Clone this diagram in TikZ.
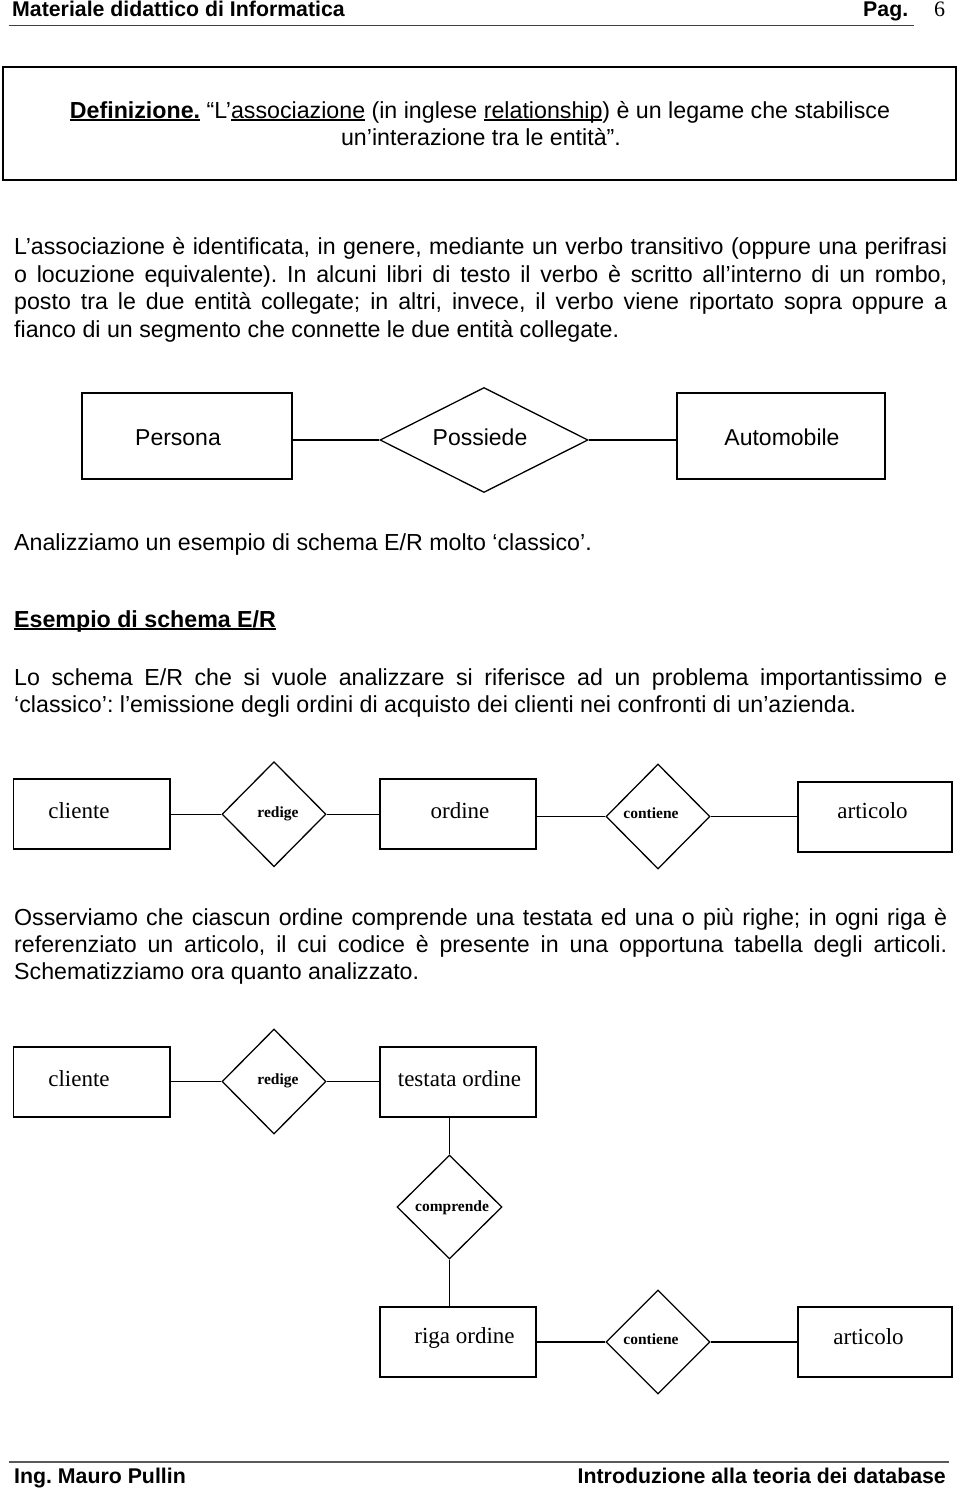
\documentclass[tikz,border=0pt]{standalone}
\usepackage{fontspec}
\setmainfont{Liberation Serif}
\newfontfamily\arialf{Liberation Sans}
\usetikzlibrary{shapes.geometric}
\frenchspacing
\newcommand\jline[1]{\makebox[933pt][s]{#1}}
\newcommand\myul[1]{\setbox0\hbox{#1}\rlap{\rule[-2.8pt]{\wd0}{1.5pt}}\box0\relax}
\tikzset{
  bodytext/.style={anchor=base west, inner sep=0pt, font=\arialf\fontsize{23.2}{27.5}\selectfont},
  centertext/.style={anchor=base, inner sep=0pt, font=\arialf\fontsize{23.2}{27.5}\selectfont},
  hdrtext/.style={inner sep=0pt, font=\arialf\bfseries\fontsize{21.3}{25}\selectfont},
  entA/.style={draw, line width=1.3pt, rectangle, inner sep=0pt},
  relA/.style={draw, line width=1.3pt, diamond, inner sep=0pt},
  entB/.style={draw, line width=1.6pt, rectangle, inner sep=0pt},
  relB/.style={draw, line width=1.3pt, diamond, inner sep=0pt},
  lblA/.style={anchor=base, inner sep=0pt, font=\arialf\fontsize{23}{27}\selectfont},
  lblE/.style={anchor=base, inner sep=0pt, font=\fontsize{23}{27}\selectfont},
  lblR/.style={anchor=base, inner sep=0pt, font=\bfseries\fontsize{15.5}{18}\selectfont},
  link/.style={line width=1.4pt},
  rulehdr/.style={line width=1.5pt, black!75}
}
\begin{document}
\begin{tikzpicture}[x=1pt,y=-1pt]
\useasboundingbox[fill=white] (0,0) rectangle (960,1488);

% header
\node[hdrtext, anchor=base west] (hdr) at (12,17) {Materiale didattico di Informatica};
\node[hdrtext, anchor=base west] (pag) at (863,17) {Pag.};
\node[anchor=base west, inner sep=0pt, font=\fontsize{22}{26}\selectfont] (pnum) at (934,17) {6};
\draw[rulehdr] (8.6,25.5) -- (914,25.5);

% definition box
\draw[line width=2pt] (3,67) rectangle (956,179.5);
\node[centertext] (def1) at (480,118) {\textbf{\myul{Definizione.}} “L’\myul{associazione} (in inglese \myul{relationship}) è un legame che stabilisce};
\node[centertext] (def2) at (481,145) {un’interazione tra le entità”.};

% paragraph 1
\node[bodytext] (p1a) at (14,254.5) {\jline{L’associazione è identificata, in genere, mediante un verbo transitivo (oppure una perifrasi}};
\node[bodytext] (p1b) at (14,282) {\jline{o locuzione equivalente). In alcuni libri di testo il verbo è scritto all’interno di un rombo,}};
\node[bodytext] (p1c) at (14,309.5) {\jline{posto tra le due entità collegate; in altri, invece, il verbo viene riportato sopra oppure a}};
\node[bodytext] (p1d) at (14,337) {fianco di un segmento che connette le due entità collegate.};

% diagram 1
\node[entA, minimum width=210pt, minimum height=86pt] (persona) at (187,436) {};
\node[relA, minimum width=208pt, minimum height=105pt] (possiede) at (484,440) {};
\node[entA, minimum width=208pt, minimum height=86pt] (auto) at (781,436) {};
\node[lblA] (tpersona) at (178,445) {Persona};
\node[lblA] (tpossiede) at (480,445) {Possiede};
\node[lblA] (tauto) at (782,445) {Automobile};
\draw[link] (possiede.west) -- (possiede.west -| persona.east);
\draw[link] (possiede.east) -- (possiede.east -| auto.west);

\node[bodytext] (p2) at (14,550) {Analizziamo un esempio di schema E/R molto ‘classico’.};
\node[bodytext] (p3) at (14,627) {\textbf{\myul{Esempio di schema E/R}}};
\node[bodytext] (p4a) at (14,685) {\jline{Lo schema E/R che si vuole analizzare si riferisce ad un problema importantissimo e}};
\node[bodytext] (p4b) at (14,712) {‘classico’: l’emissione degli ordini di acquisto dei clienti nei confronti di un’azienda.};

% diagram 2
\node[entB, minimum width=156.5pt, minimum height=70pt] (cl1) at (91.75,814) {};
\node[relB, minimum width=104pt, minimum height=105pt] (red1) at (274,814.2) {};
\node[entB, minimum width=156pt, minimum height=70pt] (ord1) at (458,814) {};
\node[relB, minimum width=104pt, minimum height=105pt] (con1) at (658,816.5) {};
\node[entB, minimum width=154pt, minimum height=70pt] (art1) at (875,817) {};
\node[lblE] (tcl1) at (79,818) {cliente};
\node[lblR] (tred1) at (278,817.5) {redige};
\node[lblE] (tord1) at (460,818) {ordine};
\node[lblR] (tcon1) at (651,818) {contiene};
\node[lblE] (tart1) at (872.5,818) {articolo};
\draw[link] (red1.west) -- (red1.west -| cl1.east);
\draw[link] (red1.east) -- (red1.east -| ord1.west);
\draw[link] (con1.west) -- (con1.west -| ord1.east);
\draw[link] (con1.east) -- (con1.east -| art1.west);

\node[bodytext] (p5a) at (14,925) {\jline{Osserviamo che ciascun ordine comprende una testata ed una o più righe; in ogni riga è}};
\node[bodytext] (p5b) at (14,952) {\jline{referenziato un articolo, il cui codice è presente in una opportuna tabella degli articoli.}};
\node[bodytext] (p5c) at (14,979) {Schematizziamo ora quanto analizzato.};

% diagram 3
\node[entB, minimum width=156.5pt, minimum height=70pt] (cl2) at (91.75,1081.7) {};
\node[relB, minimum width=104pt, minimum height=105pt] (red2) at (274,1081.5) {};
\node[entB, minimum width=156pt, minimum height=70pt] (tes2) at (458,1081.7) {};
\node[relB, minimum width=105pt, minimum height=104pt] (com2) at (449.5,1207) {};
\node[entB, minimum width=156pt, minimum height=70pt] (rig2) at (458,1342) {};
\node[relB, minimum width=104pt, minimum height=104pt] (con2) at (658,1342) {};
\node[entB, minimum width=154pt, minimum height=70pt] (art2) at (875,1342) {};
\node[lblE] (tcl2) at (79,1086) {cliente};
\node[lblR] (tred2) at (278,1084.5) {redige};
\node[lblE] (ttes2) at (459.5,1086) {testata ordine};
\node[lblR] (tcom2) at (452,1211) {comprende};
\node[lblE] (trig2) at (464.5,1343) {riga ordine};
\node[lblR] (tcon2) at (651,1344) {contiene};
\node[lblE] (tart2) at (868.5,1344.5) {articolo};
\draw[link] (red2.west) -- (red2.west -| cl2.east);
\draw[link] (red2.east) -- (red2.east -| tes2.west);
\draw[link] (com2.north) -- (com2.north |- tes2.south);
\draw[link] (com2.south) -- (com2.south |- rig2.north);
\draw[link] (con2.west) -- (con2.west -| rig2.east);
\draw[link] (con2.east) -- (con2.east -| art2.west);

% footer
\draw[line width=2pt, black!65] (8.6,1462) -- (949,1462);
\node[hdrtext, anchor=base west] (ftl) at (14,1483) {Ing. Mauro Pullin};
\node[hdrtext, anchor=base east] (ftr) at (946,1483) {Introduzione alla teoria dei database};
\end{tikzpicture}
\end{document}
